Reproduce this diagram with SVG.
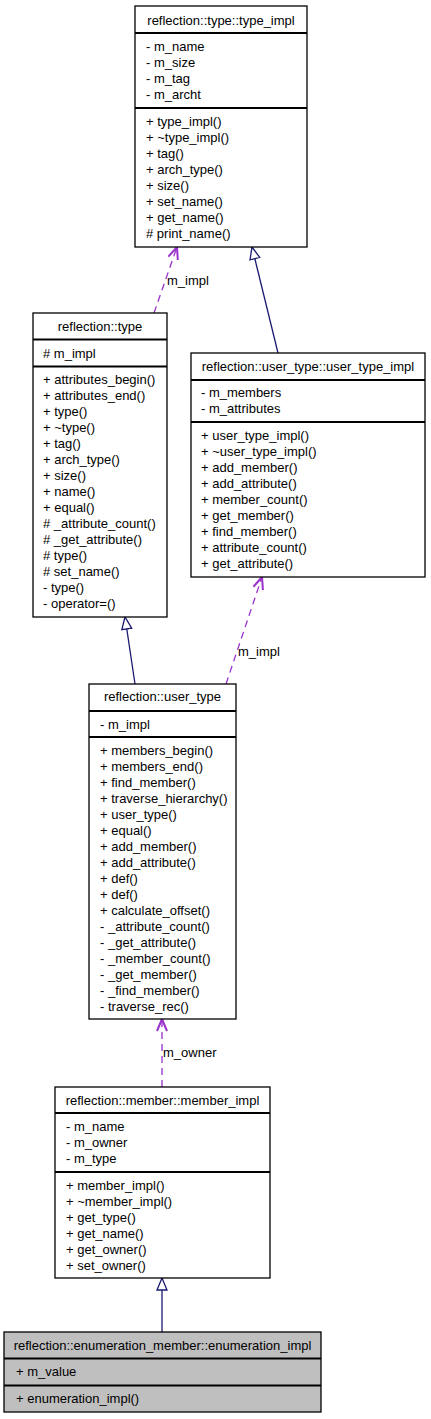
<svg xmlns="http://www.w3.org/2000/svg" width="431" height="1419" viewBox="0 0 431 1419">
<style>
text{font-family:"Liberation Sans",Arial,sans-serif;font-size:13px;fill:#000}
.t{text-anchor:middle}
.box{fill:#fff;stroke:#000;stroke-width:1.3}
.grey{fill:#bfbfbf}
.sep{stroke:#000;stroke-width:2}
.inh{fill:none;stroke:#191970;stroke-width:1.3}
.use{fill:none;stroke:#9a32cd;stroke-width:1.3;stroke-dasharray:7,5}
</style>
<defs>
<marker id="tri" viewBox="0 0 14 12" refX="13" refY="6" markerWidth="14" markerHeight="12" orient="auto" markerUnits="userSpaceOnUse">
<path d="M1,1 L13,6 L1,11 Z" fill="#fff" stroke="#191970" stroke-width="1.3"/>
</marker>
<marker id="vee" viewBox="0 0 14 12" refX="13" refY="6" markerWidth="14" markerHeight="12" orient="auto" markerUnits="userSpaceOnUse">
<path d="M1,1 L13,6 L1,11" fill="none" stroke="#9a32cd" stroke-width="2"/>
</marker>
</defs>

<g id="connectors">
<path class="inh" d="M278,353 L252,247" marker-end="url(#tri)"/>
<path class="use" d="M154,313 L177,247" marker-end="url(#vee)"/>
<text x="167" y="284.5">m_impl</text>
<path class="inh" d="M135,684 L125,617" marker-end="url(#tri)"/>
<path class="use" d="M226,684 L262,577" marker-end="url(#vee)"/>
<text x="238" y="656">m_impl</text>
<path class="use" d="M162,1087 L162,1019" marker-end="url(#vee)"/>
<text x="163" y="1057">m_owner</text>
<path class="inh" d="M162,1332 L162,1278" marker-end="url(#tri)"/>
</g>

<g id="type_impl">
<rect class="box" x="135" y="6" width="172" height="241"/>
<line class="sep" x1="135" y1="33" x2="307" y2="33"/>
<line class="sep" x1="135" y1="108" x2="307" y2="108"/>
<text class="t" x="221" y="24.5">reflection::type::type_impl</text>
<text x="146" y="51">- m_name</text>
<text x="146" y="67">- m_size</text>
<text x="146" y="83">- m_tag</text>
<text x="146" y="99">- m_archt</text>
<text x="146" y="126">+ type_impl()</text>
<text x="146" y="142">+ ~type_impl()</text>
<text x="146" y="158">+ tag()</text>
<text x="146" y="174">+ arch_type()</text>
<text x="146" y="190">+ size()</text>
<text x="146" y="206">+ set_name()</text>
<text x="146" y="222">+ get_name()</text>
<text x="146" y="238"># print_name()</text>
</g>

<g id="type">
<rect class="box" x="33" y="313" width="134" height="304"/>
<line class="sep" x1="33" y1="339.5" x2="167" y2="339.5"/>
<line class="sep" x1="33" y1="366.5" x2="167" y2="366.5"/>
<text class="t" x="100" y="331">reflection::type</text>
<text x="43" y="358"># m_impl</text>
<text x="43" y="384">+ attributes_begin()</text>
<text x="43" y="400">+ attributes_end()</text>
<text x="43" y="416">+ type()</text>
<text x="43" y="432">+ ~type()</text>
<text x="43" y="448">+ tag()</text>
<text x="43" y="464">+ arch_type()</text>
<text x="43" y="480">+ size()</text>
<text x="43" y="496">+ name()</text>
<text x="43" y="512">+ equal()</text>
<text x="43" y="528"># _attribute_count()</text>
<text x="43" y="544"># _get_attribute()</text>
<text x="43" y="560"># type()</text>
<text x="43" y="576"># set_name()</text>
<text x="43" y="592">- type()</text>
<text x="43" y="608">- operator=()</text>
</g>

<g id="user_type_impl">
<rect class="box" x="191" y="353" width="234" height="224"/>
<line class="sep" x1="191" y1="380" x2="425" y2="380"/>
<line class="sep" x1="191" y1="422" x2="425" y2="422"/>
<text class="t" x="308" y="371">reflection::user_type::user_type_impl</text>
<text x="201" y="397">- m_members</text>
<text x="201" y="413">- m_attributes</text>
<text x="201" y="440">+ user_type_impl()</text>
<text x="201" y="456">+ ~user_type_impl()</text>
<text x="201" y="472">+ add_member()</text>
<text x="201" y="488">+ add_attribute()</text>
<text x="201" y="504">+ member_count()</text>
<text x="201" y="520">+ get_member()</text>
<text x="201" y="536">+ find_member()</text>
<text x="201" y="552">+ attribute_count()</text>
<text x="201" y="568">+ get_attribute()</text>
</g>

<g id="user_type">
<rect class="box" x="89" y="684" width="147" height="335"/>
<line class="sep" x1="89" y1="711" x2="236" y2="711"/>
<line class="sep" x1="89" y1="737" x2="236" y2="737"/>
<text class="t" x="162.5" y="701">reflection::user_type</text>
<text x="100" y="728.5">- m_impl</text>
<text x="100" y="755">+ members_begin()</text>
<text x="100" y="771">+ members_end()</text>
<text x="100" y="787">+ find_member()</text>
<text x="100" y="803">+ traverse_hierarchy()</text>
<text x="100" y="819">+ user_type()</text>
<text x="100" y="835">+ equal()</text>
<text x="100" y="851">+ add_member()</text>
<text x="100" y="867">+ add_attribute()</text>
<text x="100" y="883">+ def()</text>
<text x="100" y="899">+ def()</text>
<text x="100" y="915">+ calculate_offset()</text>
<text x="100" y="931">- _attribute_count()</text>
<text x="100" y="947">- _get_attribute()</text>
<text x="100" y="963">- _member_count()</text>
<text x="100" y="979">- _get_member()</text>
<text x="100" y="995">- _find_member()</text>
<text x="100" y="1011">- traverse_rec()</text>
</g>

<g id="member_impl">
<rect class="box" x="55" y="1087" width="215" height="191"/>
<line class="sep" x1="55" y1="1113" x2="270" y2="1113"/>
<line class="sep" x1="55" y1="1172" x2="270" y2="1172"/>
<text class="t" x="162.5" y="1105">reflection::member::member_impl</text>
<text x="66" y="1131">- m_name</text>
<text x="66" y="1147">- m_owner</text>
<text x="66" y="1163">- m_type</text>
<text x="66" y="1190">+ member_impl()</text>
<text x="66" y="1206">+ ~member_impl()</text>
<text x="66" y="1222">+ get_type()</text>
<text x="66" y="1238">+ get_name()</text>
<text x="66" y="1254">+ get_owner()</text>
<text x="66" y="1270">+ set_owner()</text>
</g>

<g id="enumeration_impl">
<rect class="box grey" x="4" y="1332" width="317" height="80"/>
<line class="sep" x1="4" y1="1358.5" x2="321" y2="1358.5"/>
<line class="sep" x1="4" y1="1385.5" x2="321" y2="1385.5"/>
<text class="t" x="162.5" y="1349.5">reflection::enumeration_member::enumeration_impl</text>
<text x="16" y="1376">+ m_value</text>
<text x="16" y="1403">+ enumeration_impl()</text>
</g>
</svg>
